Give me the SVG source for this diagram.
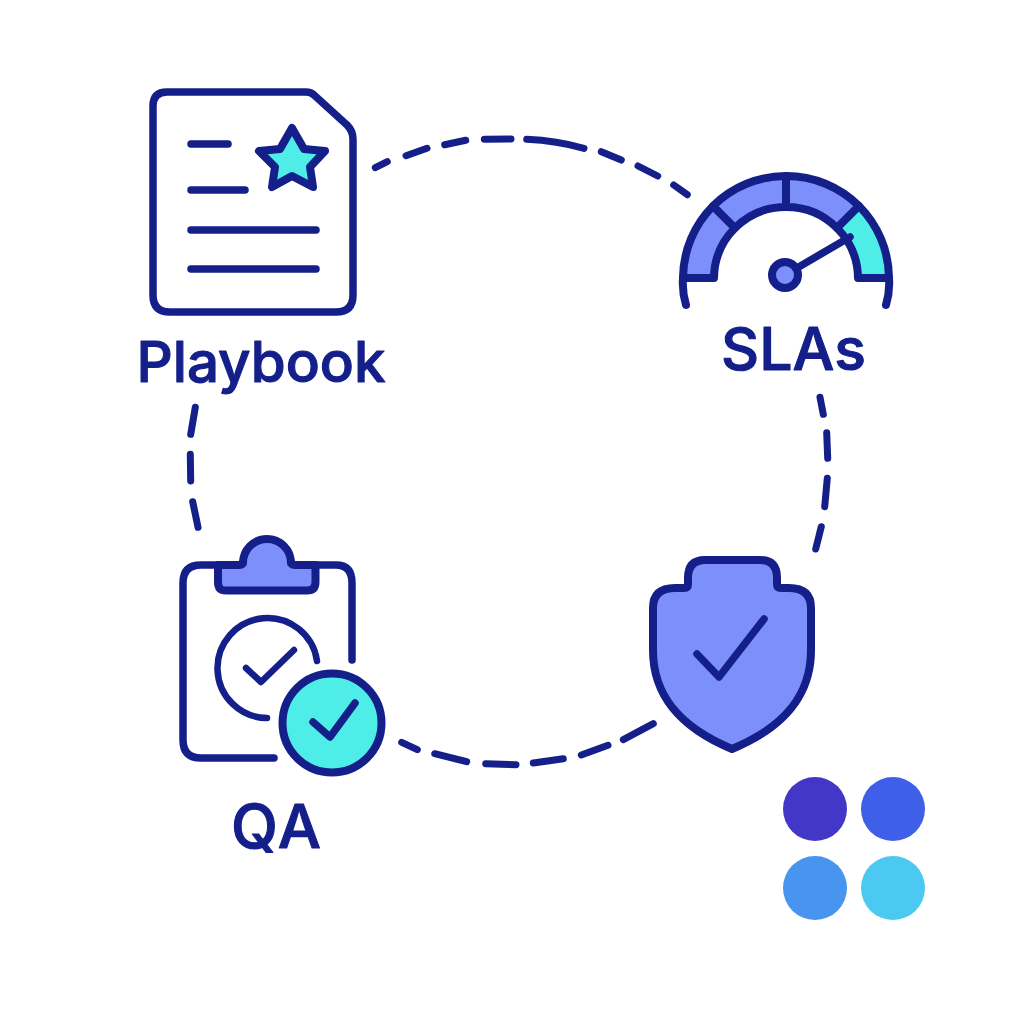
<svg xmlns="http://www.w3.org/2000/svg" width="1024" height="1024" viewBox="0 0 1024 1024">
<style>
.s{fill:none;stroke:#141F8A;stroke-width:7.5;stroke-linecap:round;stroke-linejoin:round}
.f{fill:#7C8FFB;stroke:#141F8A;stroke-width:8;stroke-linecap:round;stroke-linejoin:round}
.c{fill:#4FEDE8;stroke:#141F8A;stroke-width:8;stroke-linecap:round;stroke-linejoin:round}
.d{fill:none;stroke:#141F8A;stroke-width:7;stroke-linecap:round}
.t{font-family:Inter,"Liberation Sans",sans-serif;font-weight:500;fill:#141F8A;stroke:#141F8A;stroke-width:1.1;stroke-linejoin:round;text-anchor:middle}
</style>
<rect width="1024" height="1024" fill="#fff"/>
<g id="connectors">
<path class="d" d="M375.3 167.7L387.3 161.7M406 155.7L427 148.3M444.7 144.7L465.7 140.3M484.3 139.3L511 139M526.7 139.3Q556.7 140.7 584 148.3M601.3 151.7L621.3 160M638 166L657.7 176M673.7 185L687.3 194.7"/>
<path class="d" d="M820 397.3L823.3 414.3M826.7 432.7L827.7 458.3M827.3 478.3L824.7 506.7M821.3 526.7L815.7 549"/>
<path class="d" d="M653.3 723.7L623.3 739.7M608 745.3L581.3 755M563.3 758.7L533.3 763M516 764.7L485.7 763.7M466.7 761.7L434.7 753.7M417.3 749.7L401.7 742.3"/>
<path class="d" d="M198 527.3L192.7 501.7M190.7 481L190.3 454.3M190.7 434.3L195.3 407.3"/>
</g>
<g id="playbook">
<path class="s" d="M167 92H306Q311 92 314 95L347 125Q353 131 353 139V295Q353 312 336 312H170Q153 312 153 295V106Q153 92 167 92Z"/>
<path class="s" d="M191 144H228M191 190H245M191 230H316M191 269H316"/>
<path class="c" d="M292 128L304 149L325 151L310 167L313 187L292 176L272 187L275 167L259 151L280 149Z"/>
<text class="t" x="261" y="382" font-size="56.5">Playbook</text>
</g>
<g id="slas">
<path class="f" d="M683 278A103 103 0 0 1 713 206L735 228A72 72 0 0 0 714 278Z"/>
<path class="f" d="M713 206A103 103 0 0 1 786 176V207A72 72 0 0 0 735 228Z"/>
<path class="f" d="M786 176A103 103 0 0 1 859 206L837 228A72 72 0 0 0 786 207Z"/>
<path class="c" d="M859 206A103 103 0 0 1 889 278H858A72 72 0 0 0 837 228Z"/>
<path class="s" style="stroke-width:8" d="M683 278Q682 292 686 305M889 278Q890 292 886 305"/>
<path class="s" d="M785 275L850 237"/>
<circle class="f" cx="785" cy="275" r="13"/>
<text class="t" x="793.5" y="370" font-size="59">SLAs</text>
</g>
<g id="qa">
<path class="s" d="M274 758H201Q183 758 183 740V583Q183 565 201 565H336Q352 565 352 583V660"/>
<path class="f" d="M218 565H239Q243 565 243 561V563A24 24 0 0 1 291 563V561Q291 565 295 565H315.500V582Q315.500 590.500 307 590.500H226Q218 590.500 218 582Z"/>
<path class="s" style="stroke-width:6.500" d="M317 661A50 50 0 1 0 267 718"/>
<path class="s" style="stroke-width:6.500" d="M246 668L261 682L294 650"/>
<circle class="c" cx="332" cy="723" r="49.500"/>
<path class="s" d="M313 722L330 737L355 703"/>
<text class="t" x="277" y="848" font-size="61" letter-spacing="2">QA</text>
</g>
<g id="shield">
<path class="f" d="M705 560H760Q777 560 777 578V584Q777 588 781 588H789Q811 588 811 608V650C811 695 785 727 732 749C679 727 653 695 653 650V608Q653 588 675 588H684Q688 588 688 584V578Q688 560 705 560Z"/>
<path class="s" d="M697 654L719 677L764 619"/>
</g>
<g id="dots">
<circle cx="815" cy="809" r="32" fill="#4237C6"/>
<circle cx="893" cy="809" r="32" fill="#3F5FE8"/>
<circle cx="815" cy="888" r="32" fill="#4895EF"/>
<circle cx="893" cy="888" r="32" fill="#4CC9F0"/>
</g>
</svg>
